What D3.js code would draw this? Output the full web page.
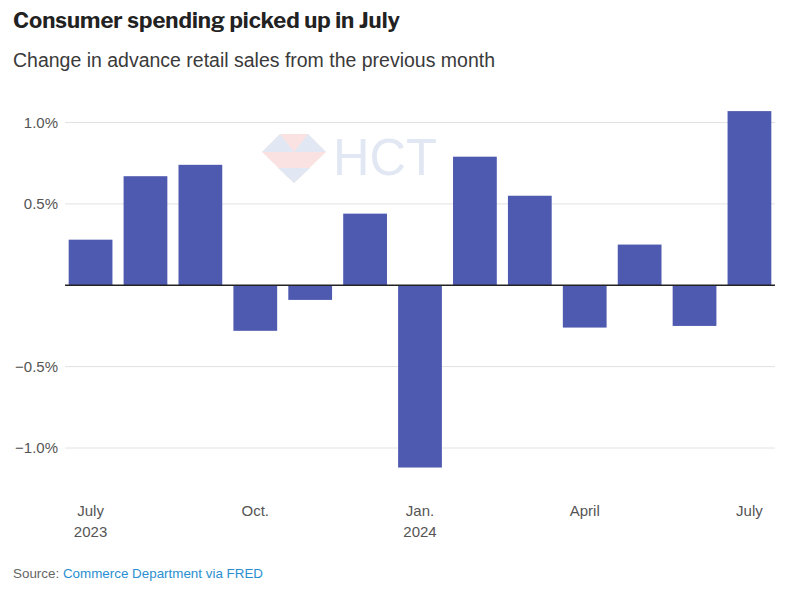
<!DOCTYPE html>
<html>
<head>
<meta charset="utf-8">
<script src="https://cdn.jsdelivr.net/npm/d3@7"></script>
<style>
  body { margin: 0; background: #fff; }
  svg { display: block; }
</style>
</head>
<body>
<svg id="chart" width="800" height="600"></svg>
<script>
const months = ["2023-07","2023-08","2023-09","2023-10","2023-11","2023-12","2024-01","2024-02","2024-03","2024-04","2024-05","2024-06","2024-07"];
const values = [0.28, 0.67, 0.74, -0.28, -0.09, 0.44, -1.12, 0.79, 0.55, -0.26, 0.25, -0.25, 1.07];
const yTicks = [-1.0, -0.5, 0.5, 1.0];
const xTickMonths = ["2023-07","2023-10","2024-01","2024-04","2024-07"];
const xTickLabels = [["July","2023"],["Oct."],["Jan.","2024"],["April"],["July"]];

const title = "Consumer spending picked up in July";
const subtitle = "Change in advance retail sales from the previous month";

const svg = d3.select("#chart");
const font = "'Liberation Sans', Arial, sans-serif";

const x = d3.scaleBand().domain(months).range([65, 775]).paddingInner(0.203).paddingOuter(0.067);
const y = d3.scaleLinear().domain([-1, 1]).range([448, 122.5]);

// Title
svg.append("text").attr("x", 13).attr("y", 28)
  .attr("font-family", "'Libre Franklin', 'DejaVu Sans', sans-serif")
  .attr("font-weight", "bold").attr("font-size", 21.5).attr("fill", "#222")
  .attr("textLength", 387).attr("lengthAdjust", "spacingAndGlyphs")
  .text(title);
svg.append("text").attr("x", 13).attr("y", 67)
  .attr("font-family", font).attr("font-size", 19.5).attr("fill", "#3a3a3a")
  .attr("textLength", 482).attr("lengthAdjust", "spacingAndGlyphs")
  .text(subtitle);

// Watermark
const wm = svg.append("g").attr("opacity", 0.3);
wm.append("polygon").attr("points", "262,152 280,134 308,134 326,152 294,183")
  .attr("fill", "#f0a0a0");
wm.append("polygon").attr("points", "262,152 280,134 294,152").attr("fill", "#9fb4d8");
wm.append("polygon").attr("points", "294,152 308,134 326,152").attr("fill", "#9fb4d8");
wm.append("polygon").attr("points", "278,168 310,168 294,183").attr("fill", "#9fb4d8");
wm.append("text").attr("x", 333).attr("y", 175)
  .attr("font-family", font).attr("font-size", 52).attr("fill", "#9fb4d8")
  .attr("textLength", 104).attr("lengthAdjust", "spacingAndGlyphs").text("HCT");

// Grid
const gGrid = svg.append("g");
gGrid.selectAll("line").data(yTicks).join("line")
  .attr("x1", 65).attr("x2", 775)
  .attr("y1", d => y(d)).attr("y2", d => y(d))
  .attr("stroke", "#e2e2e2").attr("stroke-width", 1);

// Y labels
svg.append("g").selectAll("text").data(yTicks).join("text")
  .attr("x", 58).attr("y", d => y(d)).attr("dy", "0.35em")
  .attr("text-anchor", "end").attr("font-family", font).attr("font-size", 15)
  .attr("fill", "#555")
  .text(d => (d < 0 ? "\u2212" : "") + Math.abs(d).toFixed(1) + "%");

// Bars
svg.append("g").selectAll("rect").data(months).join("rect")
  .attr("x", d => x(d))
  .attr("width", x.bandwidth())
  .attr("y", (d, i) => y(Math.max(0, values[i])))
  .attr("height", (d, i) => Math.abs(y(values[i]) - y(0)))
  .attr("fill", "#4e5ab0");

// Zero line
svg.append("line").attr("x1", 65).attr("x2", 775)
  .attr("y1", y(0)).attr("y2", y(0))
  .attr("stroke", "#222").attr("stroke-width", 1.5);

// X labels
const xl = svg.append("g").selectAll("text").data(xTickMonths).join("text")
  .attr("x", d => x(d) + x.bandwidth() / 2)
  .attr("y", 516)
  .attr("text-anchor", "middle").attr("font-family", font).attr("font-size", 15)
  .attr("fill", "#555");
xl.each(function(d, i) {
  const t = d3.select(this);
  xTickLabels[i].forEach((s, j) => {
    t.append("tspan").attr("x", x(d) + x.bandwidth() / 2).attr("dy", j === 0 ? 0 : 21).text(s);
  });
});

// Source
const src = svg.append("text").attr("x", 13).attr("y", 578)
  .attr("font-family", font).attr("font-size", 13.4);
src.append("tspan").attr("fill", "#666").text("Source: ");
src.append("tspan").attr("fill", "#2a8fd0").text("Commerce Department via FRED");
</script>
</body>
</html>
